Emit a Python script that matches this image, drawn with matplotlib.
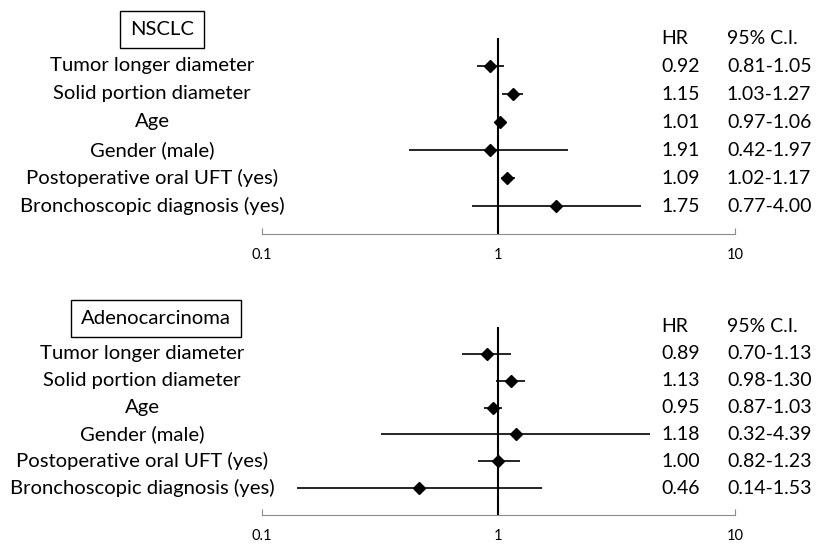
import matplotlib
matplotlib.use("Agg")
import matplotlib.pyplot as plt

plt.rcParams['font.family'] = ['Lato', 'DejaVu Sans']

# ---------- data ----------
variables = ['Tumor longer diameter', 'Solid portion diameter', 'Age',
             'Gender (male)', 'Postoperative oral UFT (yes)',
             'Bronchoscopic diagnosis (yes)']

# NSCLC: marks as drawn in the picture, text columns as printed
nsclc_hr = [0.92, 1.15, 1.01, 0.92, 1.09, 1.75]
nsclc_lo = [0.81, 1.03, 0.97, 0.42, 1.02, 0.77]
nsclc_hi = [1.05, 1.27, 1.06, 1.97, 1.17, 4.00]
nsclc_hr_txt = ['0.92', '1.15', '1.01', '1.91', '1.09', '1.75']
nsclc_ci_txt = ['0.81-1.05', '1.03-1.27', '0.97-1.06', '0.42-1.97',
                '1.02-1.17', '0.77-4.00']

adeno_hr = [0.89, 1.13, 0.95, 1.18, 1.00, 0.46]
adeno_lo = [0.70, 0.98, 0.87, 0.32, 0.82, 0.14]
adeno_hi = [1.13, 1.30, 1.03, 4.39, 1.23, 1.53]
adeno_hr_txt = ['0.89', '1.13', '0.95', '1.18', '1.00', '0.46']
adeno_ci_txt = ['0.70-1.13', '0.98-1.30', '0.87-1.03', '0.32-4.39',
                '0.82-1.23', '0.14-1.53']

xticks = [0.1, 1, 10]
xticklabels = ['0.1', '1', '10']

W, H = 820, 544
FS = 14.6      # row labels / titles
FS_NUM = 14    # HR / CI columns


def panel(fig, top_px, bot_px, title, hr, lo, hi, hr_txt, ci_txt,
          label_x, box_x):
    ax = fig.add_axes([262 / W, 1 - bot_px / H, 473 / W, (bot_px - top_px) / H])
    ax.set_xscale('log')
    ax.set_xlim(0.1, 10)
    ax.set_ylim(7, -1)
    rows = list(range(1, len(hr) + 1))

    ax.vlines(1, 0, 7, color='black', lw=1.5)
    ax.hlines(rows, lo, hi, color='black', lw=1.2)
    ax.plot(hr, rows, 'D', color='black', ms=6, ls='none')

    for s in ('top', 'right', 'left'):
        ax.spines[s].set_visible(False)
    ax.spines['bottom'].set_color('#8c8c8c')
    ax.set_yticks([])
    ax.set_xticks(xticks)
    ax.set_xticklabels(xticklabels)
    ax.minorticks_off()
    ax.tick_params(axis='x', direction='in', length=4, color='#8c8c8c',
                   labelsize=10.5, pad=10)

    tr = ax.get_yaxis_transform()
    for r, v, h, c in zip(rows, variables, hr_txt, ci_txt):
        ax.text(label_x, r, v, transform=tr, ha='center', va='center',
                fontsize=FS, clip_on=False)
        ax.text(0.844, r, h, transform=tr, ha='left', va='center',
                fontsize=FS_NUM, clip_on=False)
        ax.text(0.983, r, c, transform=tr, ha='left', va='center',
                fontsize=FS_NUM, clip_on=False)
    ax.text(0.844, 0, 'HR', transform=tr, ha='left', va='center',
            fontsize=FS_NUM, clip_on=False)
    ax.text(0.983, 0, '95% C.I.', transform=tr, ha='left', va='center',
            fontsize=FS_NUM, clip_on=False)
    ax.text(box_x, -0.3, title, transform=tr, ha='center', va='center',
            fontsize=FS, clip_on=False,
            bbox=dict(boxstyle='square,pad=0.5', fc='white', ec='black', lw=1))
    return ax


fig = plt.figure(figsize=(W / 100, H / 100), dpi=100)
panel(fig, 10, 234, 'NSCLC', nsclc_hr, nsclc_lo, nsclc_hi,
      nsclc_hr_txt, nsclc_ci_txt, (152 - 262) / 473, (162 - 262) / 473)
panel(fig, 300, 515, 'Adenocarcinoma', adeno_hr, adeno_lo, adeno_hi,
      adeno_hr_txt, adeno_ci_txt, (142 - 262) / 473, (156 - 262) / 473)
fig.savefig('out.png', dpi=100)
